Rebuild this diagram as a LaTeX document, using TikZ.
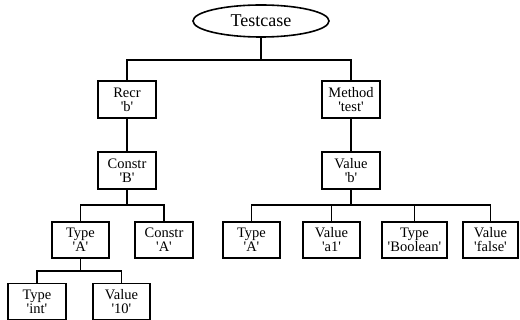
\documentclass[tikz,border=0pt]{standalone}
\usepackage{fontspec}
\setmainfont{Liberation Serif}
\usetikzlibrary{shapes.geometric}
\newcommand\sq{\textquotesingle}
\begin{document}
\begin{tikzpicture}[x=1pt,y=1pt,
  line width=1.6pt,
  box/.style={draw, rectangle, inner sep=0pt, minimum width=58pt, minimum height=37pt,
    align=center, font=\fontsize{14.5}{14}\selectfont},
  rootnode/.style={draw, ellipse, inner sep=0pt, minimum width=136pt, minimum height=32pt,
    font=\fontsize{18}{20}\selectfont}]
\useasboundingbox (0,0) rectangle (520,-320);

% nodes
\node[rootnode] (root) at (261,-21) {Testcase};
\node[box] (recr) at (127,-99.5) {Recr\\\sq b\sq};
\node[box] (constrB) at (127,-170.5) {Constr\\\sq B\sq};
\node[box] (method) at (351,-99.5) {Method\\\sq test\sq};
\node[box] (valueb) at (351,-170.5) {Value\\\sq b\sq};
\node[box, minimum width=57pt, minimum height=36pt] (typeA) at (80.5,-240) {Type\\\sq A\sq};
\node[box, minimum height=36pt] (constrA) at (164,-240) {Constr\\\sq A\sq};
\node[box, minimum height=36pt] (typeint) at (37,-301.5) {Type\\\sq int\sq};
\node[box, minimum width=57pt, minimum height=36pt] (value10) at (121.5,-301.5) {Value\\\sq 10\sq};
\node[box, minimum width=57pt, minimum height=36pt] (typeA2) at (251.5,-240) {Type\\\sq A\sq};
\node[box, minimum width=57pt, minimum height=36pt] (valuea1) at (331.5,-240) {Value\\\sq a1\sq};
\node[box, minimum width=65pt, minimum height=36pt] (typebool) at (414.5,-240) {Type\\\sq Boolean\sq};
\node[box, minimum width=55pt, minimum height=36pt] (valuefalse) at (490.5,-240) {Value\\\sq false\sq};

% junction points of the branching lines
\coordinate (j1) at (261,-60);
\coordinate (j2) at (127,-205);
\coordinate (j3) at (80.5,-271);
\coordinate (j4) at (351,-205);

% connectors
\draw (root.south) -- (j1);
\draw (recr.north) |- (j1) -| (method.north);
\draw (recr) -- (constrB);
\draw (method) -- (valueb);
\draw (constrB.south) -- (j2);
\draw (typeA.north) |- (j2) -| (constrA.north);
\draw (typeA.south) -- (j3);
\draw (typeint.north) |- (j3) -| (value10.north);
\draw (valueb.south) -- (j4);
\draw (typeA2.north) |- (j4) -| (valuefalse.north);
\draw (valuea1.north) -- (valuea1.north |- j4);
\draw (typebool.north) -- (typebool.north |- j4);
\end{tikzpicture}
\end{document}
